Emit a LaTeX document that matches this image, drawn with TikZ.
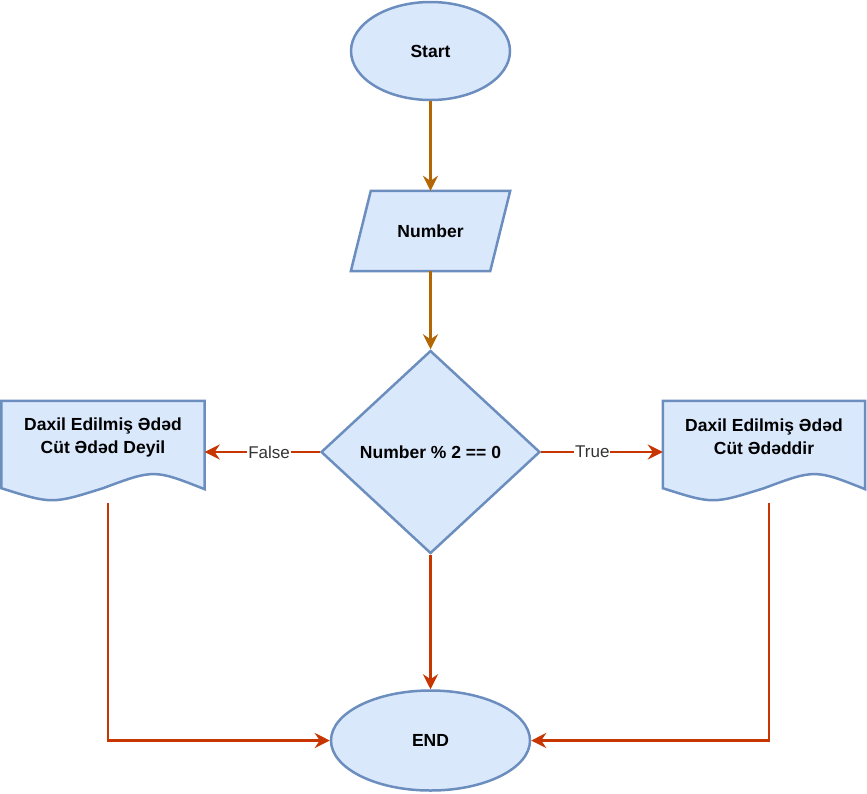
\documentclass[tikz,border=0pt]{standalone}
\usepackage{fontspec}
\setmainfont{Liberation Sans}
\usetikzlibrary{shapes.geometric,arrows.meta,calc}
\definecolor{boxfill}{HTML}{DAE8FC}
\definecolor{boxline}{HTML}{6C8EBF}
\definecolor{flowor}{HTML}{B46504}
\definecolor{flowred}{HTML}{C73500}

\begin{document}
\begin{tikzpicture}[x=1pt,y=-1pt,
	shp/.style={draw=boxline,fill=boxfill,line width=2.5pt,inner sep=0pt,
		font=\fontsize{17.5}{23}\selectfont\bfseries,align=center},
	term/.style={shp,ellipse},
	docline/.style={draw=boxline,fill=boxfill,line width=2.5pt},
	doctext/.style={font=\fontsize{17.5}{23}\selectfont\bfseries,align=center},
	flow/.style={line width=2.5pt,-{Stealth[length=15pt,width=15pt,inset=5pt]}},
	lab/.style={fill=white,inner sep=1pt,font=\fontsize{17}{20}\selectfont,text=black!80}]
		\useasboundingbox (0,0) rectangle (867,793);
		% main column
		\node[term,minimum width=159,minimum height=98] (start) at (430.5,51) {Start};
		\node[minimum width=159,minimum height=80,inner sep=0pt] (num) at (430.5,231) {};
		\draw[docline] ($(num.north west)+(20,0)$) -- (num.north east)
			-- ($(num.south east)+(-20,0)$) -- (num.south west) -- cycle;
		\node[doctext] (numtxt) at (num) {Number};
		\node[shp,diamond,minimum width=219,minimum height=203] (dec) at (430.5,452) {Number \% 2 == 0};
		\node[term,minimum width=199,minimum height=100] (end) at (430.5,740.5) {END};
		% the two documents
		\node[minimum width=203,minimum height=102,inner sep=0pt] (ldoc) at (103,452) {};
		\node[minimum width=202,minimum height=102,inner sep=0pt] (rdoc) at (764,452) {};
		\draw[docline] (ldoc.north west) -- (ldoc.north east) -- ($(ldoc.south east)+(0,-14)$)
			.. controls ($(ldoc.south)+(51,-34)$) .. ($(ldoc.south)+(0,-15)$)
			.. controls ($(ldoc.south)+(-51,1)$) .. ($(ldoc.south west)+(0,-15)$) -- cycle;
		\draw[docline] (rdoc.north west) -- (rdoc.north east) -- ($(rdoc.south east)+(0,-14)$)
			.. controls ($(rdoc.south)+(51,-34)$) .. ($(rdoc.south)+(0,-15)$)
			.. controls ($(rdoc.south)+(-51,1)$) .. ($(rdoc.south west)+(0,-15)$) -- cycle;
		\node[doctext] (ltxt) at (103,437) {Daxil Edilmiş Ədəd\\Cüt Ədəd Deyil};
		\node[doctext] (rtxt) at (764,437) {Daxil Edilmiş Ədəd\\Cüt Ədəddir};
		% arrows
		\draw[flow,flowor] (start.south) -- (num.north);
		\draw[flow,flowor] (num.south) -- (dec.north);
		\draw[flow,flowred] (dec.west) -- node[lab,pos=0.44] {False} (ldoc.east);
		\draw[flow,flowred] (dec.east) -- node[lab,pos=0.42] {True} (rdoc.west);
		\draw[flow,flowred] (dec.south) -- (end.north);
		\draw[flow,flowred] ([xshift=5pt]ldoc.south) |- (end.west);
		\draw[flow,flowred] ([xshift=5pt]rdoc.south) |- (end.east);
\end{tikzpicture}
\end{document}
